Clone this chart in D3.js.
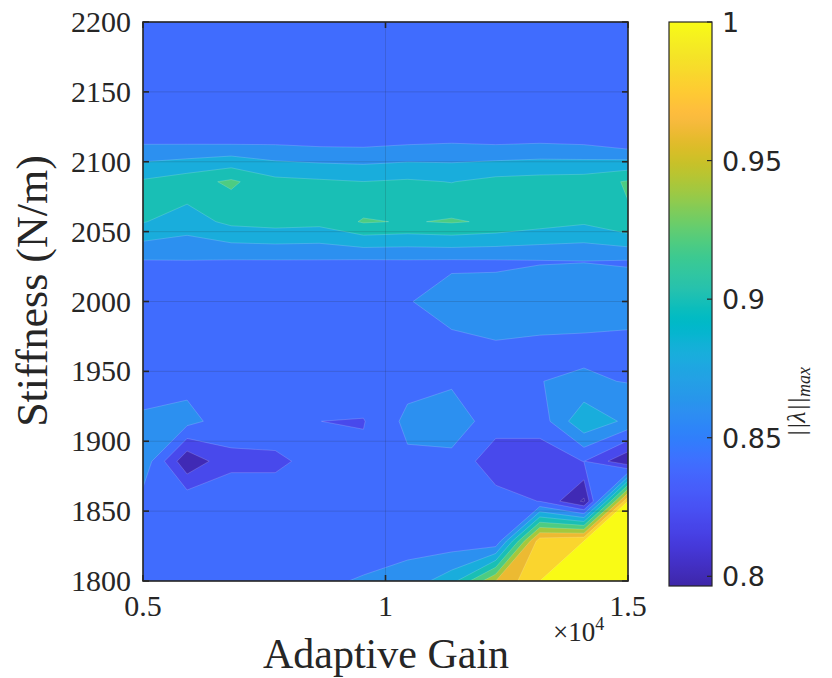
<!DOCTYPE html>
<html><head><meta charset="utf-8">
<script src="https://cdn.jsdelivr.net/npm/d3@7"></script>
<style>body{margin:0;background:#fff} svg{display:block} .sf{font-family:"Liberation Serif","DejaVu Serif","DejaVu Sans",sans-serif} .ss{font-family:"DejaVu Sans",sans-serif}</style>
</head><body>
<svg id="chart" width="832" height="678"></svg>
<script>
// ---------- data ----------
const adaptiveGain = [5000, 5909.1, 6818.2, 7727.3, 8636.4, 9545.5, 10454.5, 11363.6, 12272.7, 13181.8, 14090.9, 15000];
const stiffness = [1800, 1828.6, 1857.1, 1885.7, 1914.3, 1942.9, 1971.4, 2000, 2028.6, 2057.1, 2085.7, 2114.3, 2142.9, 2171.4, 2200];
// ||lambda||_max, one array per stiffness row (left to right along adaptive gain)
const lam1800 = [0.846,0.845,0.846,0.847,0.854,0.863,0.8675,0.892,0.960,1.000,1.000,1.000];
const lam1829 = [0.847,0.848,0.846,0.847,0.846,0.843,0.8532,0.848,0.8437,0.992,1.000,1.000];
const lam1857 = [0.8525,0.854,0.850,0.850,0.848,0.846,0.850,0.851,0.848,0.8395,0.7965,1.000];
const lam1886 = [0.874,0.804,0.836,0.836,0.8468,0.844,0.8563,0.854,0.828,0.828,0.8405,0.803];
const lam1914 = [0.8647,0.867,0.848,0.851,0.84005,0.839,0.865,0.872,0.849,0.849,0.8966,0.8748];
const lam1943 = [0.848,0.8538,0.850,0.849,0.848,0.852,0.8534,0.857,0.855,0.8598,0.862,0.8593];
const lam1971 = [0.846,0.847,0.848,0.847,0.846,0.848,0.850,0.857,0.8598,0.857,0.856,0.855];
const lam2000 = [0.847,0.848,0.847,0.846,0.848,0.850,0.859,0.867,0.8668,0.876,0.875,0.872];
const lam2029 = [0.8583,0.859,0.858,0.858,0.858,0.857,0.8575,0.857,0.8575,0.8585,0.8595,0.858];
const lam2057 = [0.901,0.8909,0.9048,0.908,0.906,0.922,0.9185,0.922,0.917,0.909,0.903,0.9177];
const lam2086 = [0.9027,0.9116,0.9237,0.9058,0.903,0.9002,0.9028,0.8994,0.9062,0.9085,0.910,0.922];
const lam2114 = [0.8571,0.8566,0.8557,0.8564,0.854,0.8536,0.8566,0.8585,0.8564,0.8581,0.8561,0.846];
const lam2143 = [0.851,0.852,0.850,0.851,0.850,0.849,0.851,0.852,0.851,0.852,0.851,0.848];
const lam2171 = [0.848,0.849,0.848,0.847,0.848,0.848,0.849,0.848,0.847,0.848,0.849,0.847];
const lam2200 = [0.846,0.847,0.846,0.846,0.847,0.846,0.846,0.847,0.846,0.847,0.846,0.846];

const levels = [0.80,0.82,0.84,0.86,0.88,0.90,0.92,0.94,0.96,0.98,1.00];
const xTicks = [5000, 10000, 15000];
const xTickLabels = ["0.5", "1", "1.5"];
const yTicks = [1800,1850,1900,1950,2000,2050,2100,2150,2200];
const cTicks = [0.8, 0.85, 0.9, 0.95, 1];
const cTickLabels = ["0.8","0.85","0.9","0.95","1"];
const cMin = 0.7965, cMax = 1.0;

// parula colormap (64 entries)
const parulaMap = [
[0.2422,0.1504,0.6603],[0.2504,0.1650,0.7076],[0.2578,0.1818,0.7511],[0.2647,0.1978,0.7952],
[0.2706,0.2147,0.8364],[0.2751,0.2342,0.8710],[0.2783,0.2559,0.8991],[0.2803,0.2782,0.9221],
[0.2813,0.3006,0.9414],[0.2810,0.3228,0.9579],[0.2795,0.3447,0.9717],[0.2760,0.3667,0.9829],
[0.2699,0.3892,0.9906],[0.2602,0.4123,0.9952],[0.2440,0.4358,0.9988],[0.2206,0.4603,0.9973],
[0.1963,0.4847,0.9892],[0.1834,0.5074,0.9798],[0.1786,0.5289,0.9682],[0.1764,0.5499,0.9520],
[0.1687,0.5703,0.9359],[0.1540,0.5902,0.9218],[0.1460,0.6091,0.9079],[0.1380,0.6276,0.8973],
[0.1248,0.6459,0.8883],[0.1113,0.6635,0.8763],[0.0952,0.6798,0.8598],[0.0689,0.6948,0.8394],
[0.0297,0.7082,0.8163],[0.0036,0.7203,0.7917],[0.0067,0.7312,0.7660],[0.0433,0.7411,0.7394],
[0.0964,0.7500,0.7120],[0.1408,0.7584,0.6842],[0.1717,0.7670,0.6554],[0.1938,0.7758,0.6251],
[0.2161,0.7843,0.5923],[0.2470,0.7918,0.5567],[0.2906,0.7973,0.5188],[0.3406,0.8008,0.4789],
[0.3909,0.8029,0.4354],[0.4456,0.8024,0.3909],[0.5044,0.7993,0.3480],[0.5616,0.7942,0.3045],
[0.6174,0.7876,0.2612],[0.6720,0.7793,0.2227],[0.7242,0.7698,0.1910],[0.7738,0.7598,0.1646],
[0.8203,0.7498,0.1535],[0.8634,0.7406,0.1596],[0.9035,0.7330,0.1774],[0.9393,0.7288,0.2100],
[0.9728,0.7298,0.2394],[0.9956,0.7434,0.2371],[0.9970,0.7659,0.2199],[0.9952,0.7893,0.2028],
[0.9892,0.8136,0.1885],[0.9786,0.8386,0.1766],[0.9676,0.8639,0.1643],[0.9610,0.8890,0.1537],
[0.9597,0.9135,0.1423],[0.9628,0.9373,0.1265],[0.9691,0.9606,0.1064],[0.9769,0.9839,0.0805]];
function parula(t){
  t = Math.max(0, Math.min(1, t));
  const p = t*(parulaMap.length-1), i = Math.min(Math.floor(p), parulaMap.length-2), f = p - i;
  const a = parulaMap[i], b = parulaMap[i+1];
  return d3.rgb(255*(a[0]+(b[0]-a[0])*f), 255*(a[1]+(b[1]-a[1])*f), 255*(a[2]+(b[2]-a[2])*f)).formatHex();
}
const colorOf = v => parula((v - cMin)/(cMax - cMin));

// ---------- layout ----------
const svg = d3.select("#chart");
const L = 143, R = 628, T = 22, B = 581;
const x = d3.scaleLinear([5000, 15000], [L, R]);
const y = d3.scaleLinear([1800, 2200], [B, T]);
const axisColor = "#262626";

const rows = [lam1800,lam1829,lam1857,lam1886,lam1914,lam1943,lam1971,lam2000,lam2029,lam2057,lam2086,lam2114,lam2143,lam2171,lam2200];
const nx = adaptiveGain.length, ny = stiffness.length;
const values = rows.flat();

const idxGain = d3.scaleLinear().domain(d3.range(nx)).range(adaptiveGain);
const idxStiff = d3.scaleLinear().domain(d3.range(ny)).range(stiffness);
const proj = d3.geoTransform({point(px, py){ this.stream.point(x(idxGain(px - 0.5)), y(idxStiff(py - 0.5))); }});
const path = d3.geoPath(proj);

const defs = svg.append("defs");
defs.append("clipPath").attr("id","plotclip").append("rect")
  .attr("x", L).attr("y", T).attr("width", R-L).attr("height", B-T);

const plot = svg.append("g").attr("clip-path","url(#plotclip)");
// top band colour as base, then regions below each level painted on top (largest first)
const topLevel = levels[levels.length-1];
plot.append("rect").attr("x",L).attr("y",T).attr("width",R-L).attr("height",B-T).attr("fill", colorOf(topLevel));
const eps = 1e-9;
const negVals = values.map(v => -v);
const lowRegions = d3.contours().size([nx, ny])
  .thresholds(levels.map(l => -(l - eps)).sort((a,b) => a-b))(negVals);
lowRegions.sort((a,b) => a.value - b.value);
plot.selectAll("path.band").data(lowRegions).join("path")
  .attr("class","band")
  .attr("d", path)
  .attr("fill", d => {
    const lv = -d.value + eps;
    const k = levels.findIndex(l => Math.abs(l - lv) < 1e-6);
    return colorOf(k > 0 ? levels[k-1] : cMin);
  })
  .attr("stroke", "rgba(255,255,255,0.28)")
  .attr("stroke-width", 0.6)
  .attr("stroke-linejoin","round");

// grid
const grid = svg.append("g").attr("stroke", axisColor).attr("stroke-opacity", 0.16).attr("stroke-width", 1);
xTicks.forEach(t => grid.append("line").attr("x1", x(t)).attr("x2", x(t)).attr("y1", T).attr("y2", B));
yTicks.forEach(t => grid.append("line").attr("x1", L).attr("x2", R).attr("y1", y(t)).attr("y2", y(t)));

// axes box and ticks
svg.append("rect").attr("x",L).attr("y",T).attr("width",R-L).attr("height",B-T)
  .attr("fill","none").attr("stroke",axisColor).attr("stroke-width",1.6);
const tk = 6;
const ticks = svg.append("g").attr("stroke",axisColor).attr("stroke-width",1.6);
xTicks.forEach(t => {
  ticks.append("line").attr("x1",x(t)).attr("x2",x(t)).attr("y1",B).attr("y2",B-tk);
  ticks.append("line").attr("x1",x(t)).attr("x2",x(t)).attr("y1",T).attr("y2",T+tk);
});
yTicks.forEach(t => {
  ticks.append("line").attr("x1",L).attr("x2",L+tk).attr("y1",y(t)).attr("y2",y(t));
  ticks.append("line").attr("x1",R).attr("x2",R-tk).attr("y1",y(t)).attr("y2",y(t));
});

// tick labels
xTicks.forEach((t,i) => svg.append("text").attr("class","sf").attr("x", x(t)).attr("y", 616)
  .attr("text-anchor","middle").attr("font-size",30).attr("fill",axisColor)
  .text(xTickLabels[i]));
yTicks.forEach(t => svg.append("text").attr("class","sf").attr("x", 131).attr("y", y(t) + 10)
  .attr("text-anchor","end").attr("font-size",30).attr("fill",axisColor)
  .text(t));

// exponent
const ex = svg.append("text").attr("class","sf").attr("x", 553).attr("y", 641)
  .attr("font-size",27).attr("fill",axisColor);
ex.append("tspan").text("\u00d710");
ex.append("tspan").attr("font-size",18).attr("dy",-11).text("4");

// axis labels
svg.append("text").attr("class","sf").attr("x", 386).attr("y", 668).attr("text-anchor","middle")
  .attr("font-size",42).attr("fill",axisColor).text("Adaptive Gain");
svg.append("text").attr("class","sf").attr("transform","translate(47,291) rotate(-90)").attr("text-anchor","middle")
  .attr("font-size",44).attr("fill",axisColor).text("Stiffness (N/m)");

// colorbar
const cbX = 669, cbW = 43, cbT = 22, cbB = 586;
const cy = d3.scaleLinear([cMin, cMax], [cbB, cbT]);
const grad = defs.append("linearGradient").attr("id","cbgrad")
  .attr("x1",0).attr("y1",1).attr("x2",0).attr("y2",0);
d3.range(0, 1.0001, 1/128).forEach(t => grad.append("stop").attr("offset", t).attr("stop-color", parula(t)));
svg.append("rect").attr("x",cbX).attr("y",cbT).attr("width",cbW).attr("height",cbB-cbT)
  .attr("fill","url(#cbgrad)").attr("stroke",axisColor).attr("stroke-width",1.2);
cTicks.forEach((t,i) => {
  svg.append("line").attr("x1",cbX+cbW).attr("x2",cbX+cbW-5).attr("y1",cy(t)).attr("y2",cy(t))
    .attr("stroke",axisColor).attr("stroke-width",1.2);
  svg.append("text").attr("class","ss").attr("x",722).attr("y",cy(t)+10)
    .attr("font-size",27).attr("fill",axisColor).text(cTickLabels[i]);
});
const cl = svg.append("text").attr("class","sf").attr("transform","translate(805,402) rotate(-90)").attr("text-anchor","middle")
  .attr("font-style","italic").attr("font-size",26).attr("fill",axisColor);
cl.append("tspan").text("||\u03bb||");
cl.append("tspan").attr("font-size",18).attr("dy",5).text("max");
</script>
</body></html>
